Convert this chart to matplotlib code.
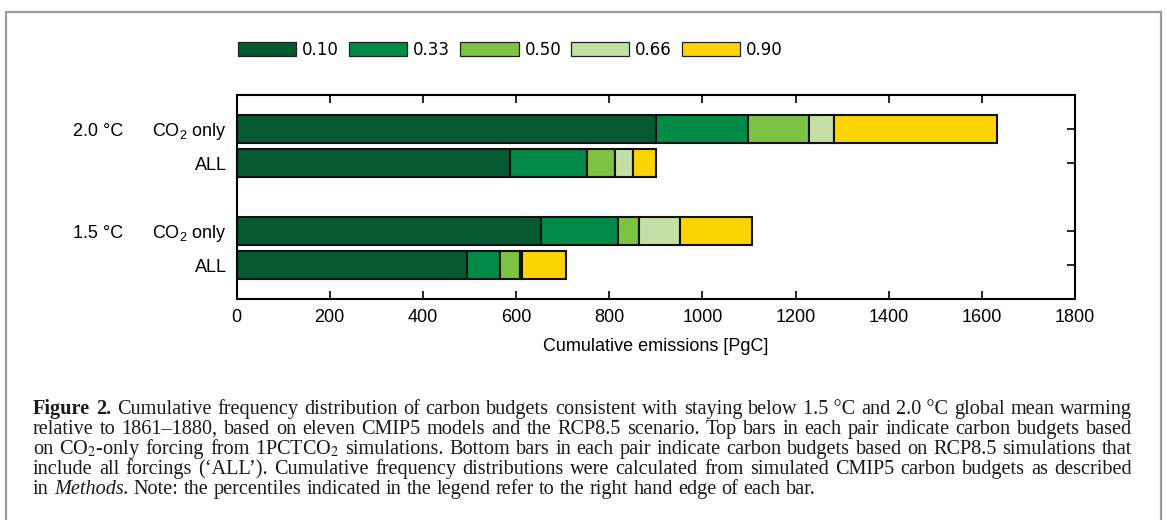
import numpy as np
import matplotlib
matplotlib.use('Agg')
import matplotlib.pyplot as plt
from matplotlib import transforms
from matplotlib.patches import Rectangle, Patch

plt.rcParams['font.family'] = ['Liberation Sans', 'DejaVu Sans']
plt.rcParams['mathtext.fontset'] = 'custom'
plt.rcParams['mathtext.rm'] = 'Liberation Sans'
plt.rcParams['mathtext.it'] = 'Liberation Sans:italic'

# cumulative emissions (PgC) at the right hand edge of each percentile bar
pct_labels = ['0.10', '0.33', '0.50', '0.66', '0.90']
co2_20 = [900, 1097, 1228, 1283, 1633]
all_20 = [587, 753, 812, 851, 901]
co2_15 = [653, 819, 864, 952, 1106]
all_15 = [494, 566, 609, 613, 707]

row_labels = ['CO$_2$ only', 'ALL', 'CO$_2$ only', 'ALL']
temp_labels = ['2.0 °C', '1.5 °C']
colors = ['#065a32', '#008a47', '#7dc242', '#c5e0a5', '#fed400']

W, H = 1167, 520
fig = plt.figure(figsize=(W / 100, H / 100), dpi=100)
ax = fig.add_axes([236.5 / W, 1 - 299 / H, (1075 - 236.5) / W, 204 / H])

ypos = [5, 4, 2, 1]
for y, edges in zip(ypos, [co2_20, all_20, co2_15, all_15]):
    edges = np.array(edges, dtype=float)
    lefts = np.concatenate([[0], edges[:-1]])
    ax.barh(y, edges - lefts, left=lefts, height=0.8, color=colors,
            edgecolor='#111111', linewidth=1.5)

ax.set_xlim(0, 1800)
ax.set_ylim(0, 6)
ax.set_xticks(np.arange(0, 1801, 200))
ax.set_yticks(ypos)
ax.set_yticklabels(row_labels)
ax.tick_params(axis='x', direction='in', top=True, length=6, width=1.2,
               labelsize=13, pad=7)
ax.tick_params(axis='y', direction='in', left=False, right=True, length=6,
               width=1.2, labelsize=13, pad=7)
for s in ax.spines.values():
    s.set_linewidth(1.5)
ax.set_xlabel('Cumulative emissions [PgC]', fontsize=13, labelpad=9)

# warming level labels to the left of each pair
trans = transforms.blended_transform_factory(fig.transFigure, ax.transData)
for y, lab in zip([5, 2], temp_labels):
    fig.text(73 / W, y, lab, transform=trans, ha='left', va='center_baseline',
             fontsize=13)

handles = [Patch(facecolor=c, edgecolor='#222222', linewidth=0.9) for c in colors]
fig.legend(handles, pct_labels, loc='center left',
           bbox_to_anchor=(238 / W, 1 - 50 / H), ncol=5, frameon=False,
           prop={'family': 'DejaVu Sans', 'size': 12}, handlelength=3.5,
           handleheight=0.9, handletextpad=0.35, columnspacing=0.6,
           borderpad=0, borderaxespad=0)

# caption, justified word by word ('~' keeps two words together)
caption = [
    'Figure 2. Cumulative frequency distribution of carbon budgets consistent with staying below 1.5~°C and 2.0~°C global mean warming',
    'relative to 1861–1880, based on eleven CMIP5 models and the RCP8.5 scenario. Top bars in each pair indicate carbon budgets based',
    'on CO$_2$-only forcing from 1PCTCO$_2$ simulations. Bottom bars in each pair indicate carbon budgets based on RCP8.5 simulations that',
    'include all forcings (‘ALL’). Cumulative frequency distributions were calculated from simulated CMIP5 carbon budgets as described',
    'in Methods. Note: the percentiles indicated in the legend refer to the right hand edge of each bar.',
]
renderer = fig.canvas.get_renderer()
cap_kw = dict(fontsize=14.6, family='Liberation Serif', va='baseline',
              math_fontfamily='stix', color='#1a1a1a')


def text_width(t):
    return t.get_window_extent(renderer).width / fig.bbox.width


probe1 = fig.text(0, 0, 'a a', **cap_kw)
probe2 = fig.text(0, 0, 'aa', **cap_kw)
space = text_width(probe1) - text_width(probe2)
probe1.remove()
probe2.remove()

x0, x1 = 33 / W, 1132 / W
for i, line in enumerate(caption):
    y = 1 - (414 + 20 * i) / H
    texts = []
    for w in line.split(' '):
        kw = {}
        if i == 0 and w in ('Figure', '2.'):
            kw['fontweight'] = 'bold'
        if w == 'Methods.':
            kw['fontstyle'] = 'italic'
        texts.append(fig.text(0, y, w.replace('~', ' '), **cap_kw, **kw))
    widths = [text_width(t) for t in texts]
    if i < len(caption) - 1:
        gap = (x1 - x0 - sum(widths)) / (len(texts) - 1)
    else:
        gap = space
    x = x0
    for t, w in zip(texts, widths):
        t.set_x(x)
        x += w + gap

fig.add_artist(Rectangle((6 / W, -0.05), (1161 - 6) / W, 1 - 12 / H + 0.05,
                         transform=fig.transFigure, fill=False,
                         edgecolor='#9b9b9f', linewidth=1.6))

fig.savefig('out.png', dpi=100)
